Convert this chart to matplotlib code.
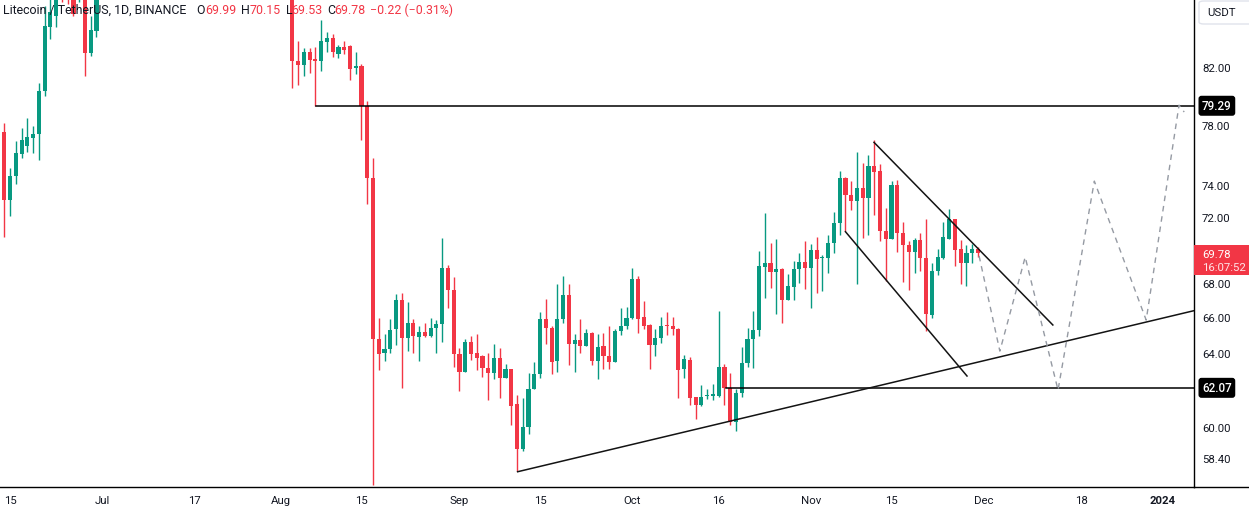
import numpy as np
import pandas as pd
import matplotlib
matplotlib.use('Agg')
import matplotlib.pyplot as plt
from matplotlib.patches import Rectangle, FancyBboxPatch
from matplotlib.lines import Line2D
from matplotlib.transforms import blended_transform_factory
from matplotlib.ticker import NullLocator, NullFormatter

W, H = 1249, 510
plt.rcParams['font.family'] = ['Roboto', 'DejaVu Sans']

GREEN = '#089981'
RED = '#F23645'
TXT = '#131722'

# ---------------- data ----------------
dates = pd.date_range('2023-06-14', '2023-11-30', freq='D')

opens = [
    77.48, 73.08, 74.6, 76.06, 76.6, 77.1, 77.4, 80.3, 84.9, 85.7,
    89.5, 88.5, 87.5, 86.9, 88.5, 83.0, 84.6, 93, 99, 106,
    111, 107, 101, 95, 98, 96, 95, 97, 96, 93,
    100, 94, 93, 91, 92, 91, 93, 92, 91, 90,
    91, 90, 90.5, 91.5, 92, 93, 93.5, 92, 91, 90,
    89, 82.45, 82.15, 83.1, 82.55, 82.4, 83.8, 84.1, 82.9, 83.45,
    83.5, 81.9, 82.1, 79.3, 74.5, 64.75, 63.95, 64.2, 65.3, 67.0,
    64.8, 65.65, 64.85, 65.15, 64.95, 65.4, 65.6, 68.9, 67.6, 63.9,
    62.95, 64.6, 63.95, 63.8, 63.15, 62.85, 63.7, 62.6, 63.1, 61.2,
    58.85, 60.0, 62.0, 62.8, 65.9, 65.4, 63.55, 65.9, 67.3, 64.5,
    64.7, 64.35, 65.1, 63.55, 64.35, 63.8, 63.5, 65.2, 65.5, 65.95,
    68.2, 66.0, 65.55, 64.4, 64.8, 65.52, 65.5, 65.35, 63.07, 63.6,
    61.6, 61.15, 61.63, 61.65, 61.65, 63.2, 62.07, 60.25, 61.8, 63.4,
    64.75, 65.25, 68.95, 69.15, 68.65, 68.8, 67.0, 67.75, 68.83, 69.25,
    68.85, 69.97, 69.45, 69.47, 70.4, 71.6, 74.47, 73.35, 73.0, 73.8,
    73.2, 75.25, 74.9, 71.1, 70.6, 74.03, 70.97, 70.27, 69.83, 70.58,
    69.5, 66.1, 68.7, 69.5, 70.65, 71.87, 70.0, 69.2, 69.78, 69.99,
]
highs = [
    78.1, 75.1, 76.9, 77.8, 78.45, 77.9, 80.9, 86.5, 87.5, 90.0,
    91.0, 90.0, 88.5, 89.0, 89.5, 85.7, 95.0, 101, 108, 114,
    113, 108, 104, 99, 99, 98, 98, 99, 97, 102,
    102, 95, 94, 93, 93, 94, 95, 93, 92, 92,
    91.5, 91, 92, 93, 93.5, 94, 94, 93, 92, 91,
    90, 83.85, 83.4, 83.4, 83.45, 85.4, 84.55, 84.4, 83.6, 83.9,
    83.6, 83.1, 82.2, 79.6, 75.8, 65.95, 65.05, 65.9, 67.35, 67.4,
    66.9, 65.9, 65.5, 65.65, 65.95, 65.85, 70.7, 69.05, 68.35, 64.25,
    64.75, 64.95, 65.05, 63.85, 63.95, 64.5, 64.25, 63.35, 63.1, 61.7,
    61.55, 62.9, 63.45, 66.3, 67.05, 65.5, 67.94, 68.4, 67.9, 65.05,
    65.9, 65.3, 65.15, 65.05, 65.1, 65.5, 65.35, 66.55, 66.6, 68.9,
    68.4, 66.95, 65.6, 65.3, 66.0, 66.3, 66.0, 65.4, 63.85, 63.75,
    61.6, 62.2, 61.98, 62.25, 66.37, 63.35, 62.9, 62.0, 64.3, 65.4,
    66.37, 69.9, 72.25, 70.4, 70.64, 68.85, 68.5, 69.3, 69.8, 70.5,
    70.35, 70.75, 69.65, 70.85, 72.3, 74.9, 74.55, 74.3, 76.2, 75.45,
    75.97, 76.97, 75.4, 72.55, 74.3, 74.35, 71.7, 70.5, 70.72, 70.98,
    71.87, 69.2, 70.03, 71.7, 72.5, 71.87, 70.55, 70.28, 70.33, 70.15,
]
lows = [
    70.78, 72.06, 74.1, 75.75, 76.15, 76.1, 75.65, 79.98, 84.0, 84.9,
    86.8, 86.6, 85.75, 86.75, 81.4, 82.8, 84.2, 92, 97, 104,
    105, 99, 93, 93, 94, 94, 92, 95, 92, 92,
    92, 92, 90, 89, 90, 90, 91, 90, 89, 89.5,
    88.5, 89, 89.5, 90, 91, 92, 91, 90, 88.5, 88,
    80.52, 80.75, 81.4, 81.6, 79.3, 81.75, 83.05, 82.7, 82.65, 82.95,
    81.1, 81.5, 77.0, 72.8, 57.03, 63.05, 63.55, 64.0, 64.4, 62.05,
    64.1, 63.95, 63.55, 64.85, 64.85, 64.0, 64.6, 66.5, 63.2, 61.9,
    62.95, 63.6, 63.05, 62.65, 61.4, 62.55, 61.55, 62.6, 60.08, 57.73,
    58.75, 59.65, 62.0, 62.6, 64.45, 62.8, 62.95, 65.65, 63.3, 62.95,
    63.95, 64.35, 63.3, 62.57, 63.07, 63.07, 63.5, 65.0, 65.35, 65.9,
    65.1, 65.3, 63.07, 63.8, 64.55, 65.0, 65.0, 61.55, 62.6, 61.15,
    60.4, 61.1, 61.45, 61.4, 61.6, 61.15, 60.08, 59.8, 61.6, 63.2,
    63.15, 64.9, 67.1, 67.7, 66.15, 65.65, 67.0, 67.0, 68.0, 67.65,
    66.55, 67.4, 67.5, 68.6, 69.78, 70.85, 71.1, 72.45, 67.9, 70.7,
    70.85, 72.1, 70.5, 68.1, 70.6, 69.83, 68.05, 67.55, 68.6, 68.7,
    65.2, 65.95, 68.45, 69.42, 70.6, 68.97, 67.95, 67.8, 69.2, 69.53,
]
closes = [
    73.08, 74.6, 76.1, 76.95, 77.2, 77.4, 80.3, 84.95, 86.0, 89.0,
    88.0, 87.5, 85.9, 88.4, 83.0, 84.7, 93.0, 99, 106, 111,
    107, 101, 95, 98, 96, 95, 97, 96, 93, 100,
    94, 93, 91, 92, 91, 93, 92, 91, 90, 91,
    90, 90.5, 91.5, 92, 93, 93.5, 92, 91, 90, 89,
    82.45, 82.15, 83.1, 82.5, 82.4, 83.85, 84.1, 83.1, 83.45, 83.2,
    81.85, 82.1, 79.3, 74.5, 64.73, 63.93, 64.2, 65.28, 67.0, 64.8,
    65.68, 64.9, 65.15, 64.95, 65.4, 65.6, 68.89, 67.6, 63.9, 62.95,
    64.6, 63.9, 63.7, 63.15, 62.85, 63.7, 62.6, 63.1, 61.08, 58.84,
    60.0, 62.0, 62.8, 65.9, 65.4, 63.5, 65.9, 67.29, 64.5, 64.7,
    64.35, 65.1, 63.55, 64.3, 63.8, 63.5, 65.2, 65.5, 65.95, 68.23,
    65.9, 65.5, 64.4, 64.8, 65.5, 65.48, 65.3, 63.05, 63.65, 61.55,
    61.15, 61.6, 61.68, 61.7, 63.2, 62.07, 60.26, 61.8, 63.4, 64.75,
    65.28, 68.99, 69.2, 68.65, 68.8, 66.98, 67.8, 68.83, 69.25, 68.85,
    69.97, 69.4, 69.5, 70.4, 71.62, 74.47, 73.35, 73.0, 73.8, 73.2,
    75.25, 74.85, 71.1, 70.6, 74.03, 70.97, 70.25, 69.85, 70.58, 69.47,
    66.15, 68.71, 69.55, 70.74, 71.87, 69.98, 69.2, 69.78, 70.0, 69.78,
]

tick_dates = ['2023-06-15', '2023-07-01', '2023-07-17', '2023-08-01', '2023-08-15',
              '2023-09-01', '2023-09-15', '2023-10-01', '2023-10-16', '2023-11-01',
              '2023-11-15', '2023-12-01', '2023-12-18', '2024-01-01']
tick_labels = ['15', 'Jul', '17', 'Aug', '15', 'Sep', '15', 'Oct', '16', 'Nov',
               '15', 'Dec', '18', '2024']
price_ticks = [82.00, 78.00, 74.00, 72.00, 68.00, 66.00, 64.00, 60.00, 58.40]

# drawings (x = days since first candle, y = price)
level_high = 79.29
level_high_from = 54.05
level_low = 62.07
level_low_from = 125.3
trend_x = [89.1, 206.5]
trend_y = [57.71, 66.37]
upper_x = [150.96, 182.0]
upper_y = [76.81, 65.55]
lower_x = [146.0, 167.1]
lower_y = [71.08, 62.71]
proj_x = [169.2, 172.8, 177.2, 182.9, 189.2, 198.2, 203.9, 204.8]
proj_y = [69.6, 64.08, 69.53, 61.95, 74.27, 65.83, 79.33, 78.86]

last_price = 69.78
countdown = '16:07:52'

# ---------------- figure ----------------
fig = plt.figure(figsize=(W / 100, H / 100), dpi=100)
fig.patch.set_facecolor('white')
ax = fig.add_axes([0, 22 / H, 1194 / W, 488 / H])
ax.set_facecolor('white')
ax.set_yscale('log')

x = np.array([(d - dates[0]).days for d in dates], dtype=float)
o = np.array(opens); c = np.array(closes)
hi = np.array(highs); lo = np.array(lows)
up = c >= o
cols = np.where(up, GREEN, RED)
ax.vlines(x, lo, hi, colors=cols, linewidth=1.0, zorder=2)
b_lo = np.minimum(o, c)
b_hi = np.maximum(np.maximum(o, c), b_lo * 1.0012)
ax.bar(x, b_hi - b_lo, bottom=b_lo, width=0.72, color=cols, linewidth=0, zorder=3)

ax.plot([level_high_from, 400], [level_high, level_high], color='black', lw=1.1, zorder=4)
ax.plot([level_low_from, 400], [level_low, level_low], color='black', lw=1.1, zorder=4)
ax.plot(trend_x, trend_y, color='#131313', lw=1.1, zorder=4)
ax.plot(upper_x, upper_y, color='#131313', lw=1.1, zorder=4)
ax.plot(lower_x, lower_y, color='#131313', lw=1.1, zorder=4)
ax.plot(proj_x, proj_y, color='#959aa3', lw=1.0, dashes=(4, 3.5), zorder=4)

ax.set_xlim(-0.746, 206.5)
ax.set_ylim(56.95, 86.99)

for s in ['top', 'left']:
    ax.spines[s].set_visible(False)
for s in ['right', 'bottom']:
    ax.spines[s].set_color('black')
    ax.spines[s].set_linewidth(1.0)

ax.yaxis.tick_right()
ax.set_yticks(price_ticks)
ax.set_yticklabels([f'{p:.2f}' for p in price_ticks])
ax.yaxis.set_minor_locator(NullLocator())
ax.yaxis.set_minor_formatter(NullFormatter())
ax.tick_params(axis='y', length=0, pad=5.8, labelsize=8.2, labelcolor=TXT)

tick_pos = [(pd.Timestamp(d) - dates[0]).days for d in tick_dates]
ax.set_xticks(tick_pos)
ax.set_xticklabels(tick_labels)
ax.tick_params(axis='x', length=0, pad=6, labelsize=8.2, labelcolor=TXT)
ax.get_xticklabels()[-1].set_fontweight('bold')

# bottom line continues under price scale
fig.add_artist(Line2D([1194 / W, 1], [22 / H, 22 / H], color='black', lw=1.0,
                      transform=fig.transFigure))

# price-scale labels for levels
bt = blended_transform_factory(ax.transAxes, ax.transData)
for lvl in [level_high, level_low]:
    ax.text(1202 / 1194, lvl, f'{lvl:.2f}', transform=bt, ha='left', va='center',
            color='white', fontsize=8.4, fontweight='medium', clip_on=False, zorder=6,
            bbox=dict(boxstyle='round,pad=0.3,rounding_size=0.25', fc='black', ec='none'))

# last price box
fig.add_artist(Rectangle((1194 / W, 1 - 276 / H), 55 / W, 30.5 / H,
                         transform=fig.transFigure, fc=RED, ec='none', zorder=5))
fig.text(1202 / W, 1 - 255 / H, f'{last_price:.2f}', color='white', fontsize=8.2,
         va='center', ha='left', zorder=6)
fig.text(1202 / W, 1 - 268 / H, countdown, color='#ffe3e6', fontsize=8.2,
         va='center', ha='left', zorder=6)

# currency box
fig.add_artist(FancyBboxPatch((1199 / W, 1 - 25 / H), 60 / W, 23 / H,
                              boxstyle='round,pad=0,rounding_size=0.004',
                              transform=fig.transFigure, fc='white', ec='#E0E3EB', lw=1.0))
fig.text(1207 / W, 1 - 13.5 / H, 'USDT', color=TXT, fontsize=8.2, va='center', ha='left')

# header
hy = 1 - 10.5 / H
hdr = [(3.3, 'Litecoin / TetherUS, 1D, BINANCE', TXT),
       (196.7, 'O', TXT), (205.2, '69.99', RED),
       (241.5, 'H', TXT), (249.5, '70.15', RED),
       (286.0, 'L', TXT), (291.0, '69.53', RED),
       (327.0, 'C', TXT), (334.5, '69.78', RED),
       (370.0, '\u22120.22 (\u22120.31%)', RED)]
for hx, s, col in hdr:
    fig.text(hx / W, hy, s, color=col, fontsize=8.9, va='center', ha='left', zorder=7)

fig.savefig('out.png', dpi=100, facecolor='white')
